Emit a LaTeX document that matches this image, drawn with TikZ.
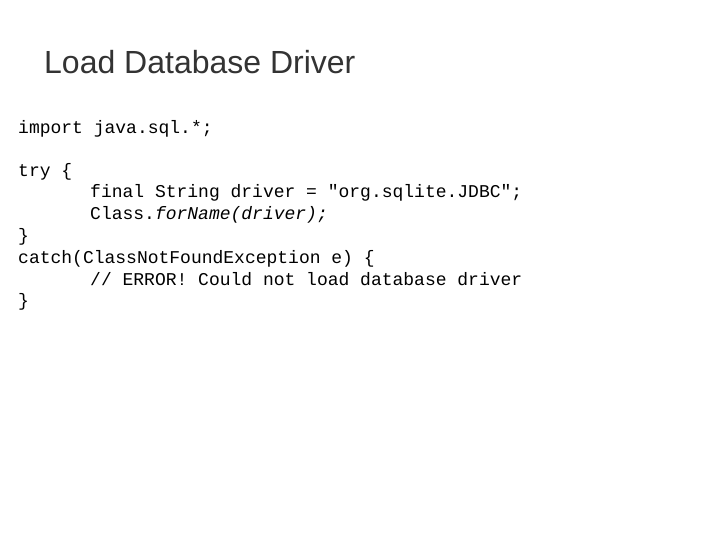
\documentclass[tikz,border=0pt]{standalone}
\usepackage{fontspec}
\setmainfont{Liberation Sans}
\newfontfamily\codefont{Liberation Mono}
\begin{document}
\begin{tikzpicture}[x=1pt,y=-1pt,
  code/.style={anchor=base west,inner sep=0pt,font=\codefont\fontsize{18}{21}\selectfont},
  ttl/.style={anchor=base west,inner sep=0pt,text=black!80,font=\fontsize{32}{36}\selectfont}]
\useasboundingbox[fill=white] (0,0) rectangle (720,540);
\node[ttl] (t) at (44,74) {Load Database Driver};
\node[code] (l1) at (18,134) {import java.sql.*;};
\node[code] (l2) at (18,177) {try \{};
\node[code] (l3) at (90,198) {final String driver = "org.sqlite.JDBC";};
\node[code] (l4) at (90,220) {Class.\textit{forName(driver);}};
\node[code] (l5) at (18,241) {\}};
\node[code] (l6) at (18,263) {catch(ClassNotFoundException e) \{};
\node[code] (l7) at (90,285) {// ERROR! Could not load database driver};
\node[code] (l8) at (18,306) {\}};
\end{tikzpicture}
\end{document}
